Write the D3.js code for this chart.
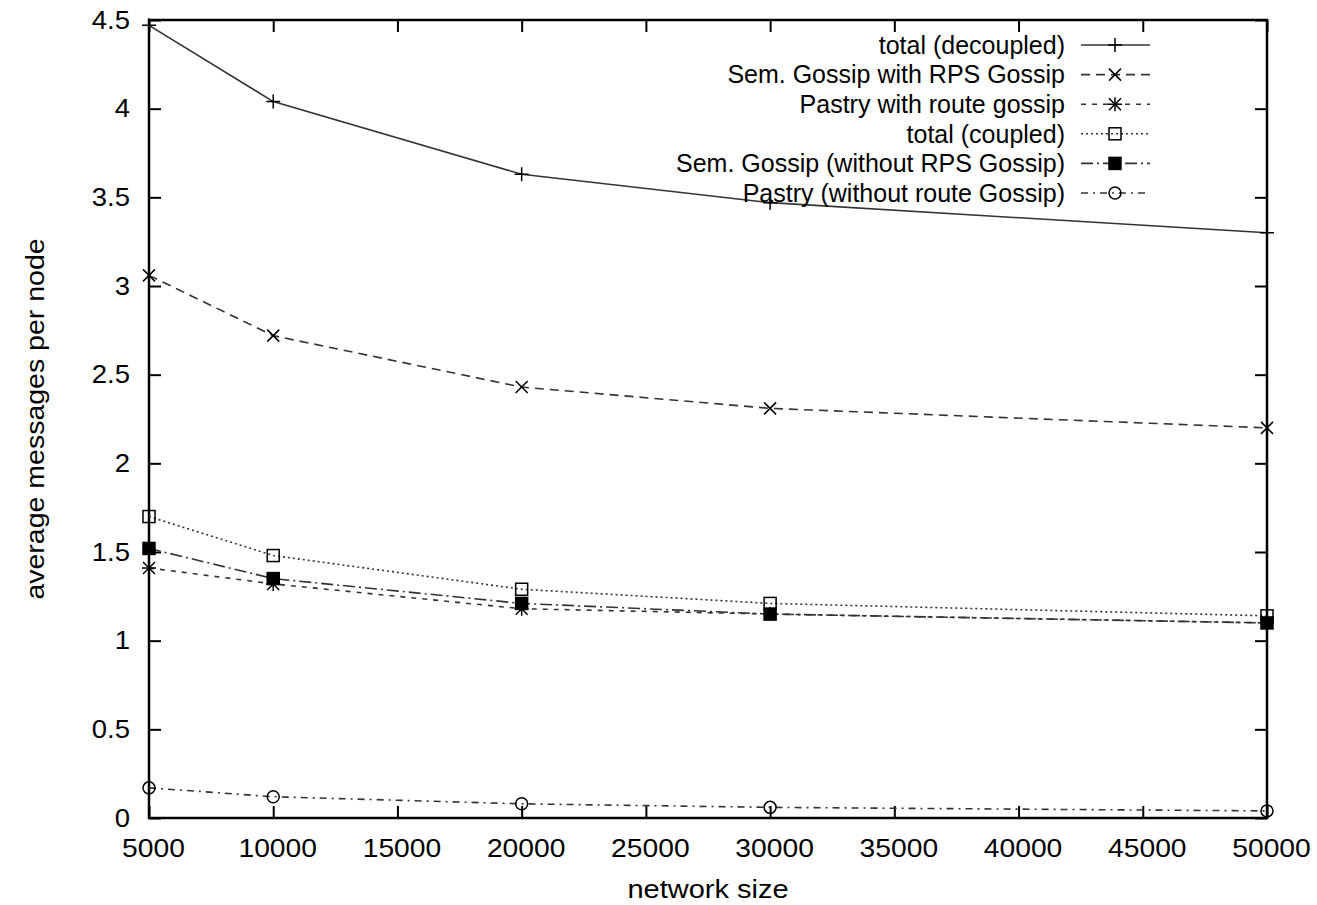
<!DOCTYPE html>
<html>
<head>
<meta charset="utf-8">
<script src="https://cdn.jsdelivr.net/npm/d3@7"></script>
<style>
  body { margin: 0; background: #fff; }
  svg { font-family: "Liberation Sans", Arial, sans-serif; }
</style>
</head>
<body>
<svg width="1317" height="905"></svg>
<script>
// network sizes on the x axis
const sizes = [5000, 10000, 20000, 30000, 50000];
// average messages per node, one array per curve
const totalDecoupled = [4.47, 4.04, 3.63, 3.47, 3.30];
const semWithRps = [3.06, 2.72, 2.43, 2.31, 2.20];
const pastryWithRoute = [1.41, 1.32, 1.18, 1.15, 1.10];
const totalCoupled = [1.70, 1.48, 1.29, 1.21, 1.14];
const semWithoutRps = [1.52, 1.35, 1.21, 1.15, 1.10];
const pastryWithoutRoute = [0.17, 0.12, 0.08, 0.06, 0.04];
const seriesNames = [
	"total (decoupled)",
	"Sem. Gossip with RPS Gossip",
	"Pastry with route gossip",
	"total (coupled)",
	"Sem. Gossip (without RPS Gossip)",
	"Pastry (without route Gossip)",
];
const xTicks = [5000, 10000, 15000, 20000, 25000, 30000, 35000, 40000, 45000, 50000];
const yTicks = [0, 0.5, 1, 1.5, 2, 2.5, 3, 3.5, 4, 4.5];

const plotLeft = 149, plotRight = 1267, plotTop = 20, plotBottom = 818;
const fontSize = 25;

const seriesValues = [totalDecoupled, semWithRps, pastryWithRoute, totalCoupled, semWithoutRps, pastryWithoutRoute];
const dashes = [null, "9,6", "5,6", "2,3", "12,4,2,4", "7,5,2,5"];
const markers = ["plus", "cross", "star", "box", "fbox", "circle"];

const x = d3.scaleLinear().domain([5000, 50000]).range([plotLeft, plotRight]);
const y = d3.scaleLinear().domain([0, 4.5]).range([plotBottom, plotTop]);

const svg = d3.select("svg");

// the scanned figure has its axis texts a bit wider than normal
function widen(sel, k) {
	sel.each(function () {
		const len = this.getComputedTextLength();
		d3.select(this).attr("textLength", len * k).attr("lengthAdjust", "spacingAndGlyphs");
	});
}

// frame
svg.append("rect")
	.attr("x", plotLeft).attr("y", plotTop)
	.attr("width", plotRight - plotLeft).attr("height", plotBottom - plotTop)
	.attr("fill", "none").attr("stroke", "#000").attr("stroke-width", 2.5);

function styleAxis(g) {
	g.select(".domain").remove();
	g.selectAll("line").attr("stroke", "#000").attr("stroke-width", 2);
	g.selectAll("text").attr("font-size", fontSize).attr("fill", "#000").attr("font-family", "Liberation Sans, Arial, sans-serif");
}

// bottom + top
const xAxisG = svg.append("g")
	.attr("transform", `translate(0,${plotBottom})`)
	.call(d3.axisBottom(x).tickValues(xTicks).tickSize(-12).tickPadding(21).tickFormat(d => d))
	.call(styleAxis);
xAxisG.selectAll("text").attr("x", 4).call(widen, 1.13);
svg.append("g")
	.attr("transform", `translate(0,${plotTop})`)
	.call(d3.axisBottom(x).tickValues(xTicks).tickSize(12).tickFormat(""))
	.call(styleAxis);
// left + right
const yAxisG = svg.append("g")
	.attr("transform", `translate(${plotLeft},0)`)
	.call(d3.axisLeft(y).tickValues(yTicks).tickSize(-12).tickPadding(19).tickFormat(d => d))
	.call(styleAxis);
yAxisG.selectAll("text").call(widen, 1.1);
svg.append("g")
	.attr("transform", `translate(${plotRight},0)`)
	.call(d3.axisLeft(y).tickValues(yTicks).tickSize(12).tickFormat(""))
	.call(styleAxis);

// axis titles
svg.append("text")
	.attr("x", 708).attr("y", 898)
	.attr("text-anchor", "middle")
	.attr("font-size", fontSize)
	.text("network size")
	.call(widen, 1.16);
svg.append("text")
	.attr("transform", `translate(44,${(plotTop + plotBottom) / 2}) rotate(-90)`)
	.attr("text-anchor", "middle")
	.attr("font-size", fontSize)
	.text("average messages per node")
	.call(widen, 1.14);

function drawMarker(g, kind, cx, cy) {
	const s = 6;
	if (kind === "plus" || kind === "star") {
		g.append("path").attr("d", `M${cx - s - 1},${cy}H${cx + s + 1}M${cx},${cy - s - 1}V${cy + s + 1}`)
			.attr("stroke", "#000").attr("stroke-width", 1.5).attr("fill", "none");
	}
	if (kind === "cross" || kind === "star") {
		g.append("path").attr("d", `M${cx - s},${cy - s}L${cx + s},${cy + s}M${cx - s},${cy + s}L${cx + s},${cy - s}`)
			.attr("stroke", "#000").attr("stroke-width", 1.5).attr("fill", "none");
	}
	if (kind === "box" || kind === "fbox") {
		g.append("rect").attr("x", cx - s).attr("y", cy - s).attr("width", 2 * s).attr("height", 2 * s)
			.attr("stroke", "#000").attr("stroke-width", 1.5)
			.attr("fill", kind === "fbox" ? "#000" : "none");
	}
	if (kind === "circle") {
		g.append("circle").attr("cx", cx).attr("cy", cy).attr("r", s)
			.attr("stroke", "#000").attr("stroke-width", 1.5).attr("fill", "none");
	}
}

const line = d3.line().x(d => x(d[0])).y(d => y(d[1]));

seriesValues.forEach((vals, i) => {
	const pts = sizes.map((s, j) => [s, vals[j]]);
	const g = svg.append("g");
	g.append("path")
		.attr("d", line(pts))
		.attr("fill", "none")
		.attr("stroke", "#333")
		.attr("stroke-width", 1.6)
		.attr("stroke-dasharray", dashes[i]);
	pts.forEach(p => drawMarker(g, markers[i], x(p[0]), y(p[1])));

	// legend entry
	const ly = 45 + i * 29.6;
	const lg = svg.append("g");
	lg.append("text")
		.attr("x", 1065).attr("y", ly).attr("dy", "0.35em")
		.attr("text-anchor", "end")
		.attr("font-size", fontSize)
		.text(seriesNames[i]);
	lg.append("line")
		.attr("x1", 1081).attr("x2", 1150).attr("y1", ly).attr("y2", ly)
		.attr("stroke", "#333").attr("stroke-width", 1.6)
		.attr("stroke-dasharray", dashes[i]);
	drawMarker(lg, markers[i], 1115, ly);
});
</script>
</body>
</html>
